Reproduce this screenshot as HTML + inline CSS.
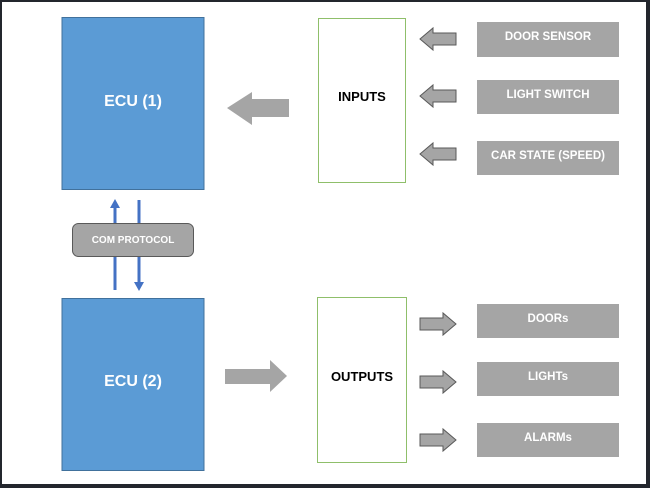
<!DOCTYPE html>
<html><head><meta charset="utf-8"><style>
html,body{margin:0;padding:0;background:#23262d;}
svg{display:block}
text{font-family:"Liberation Sans",sans-serif;font-weight:bold}
</style></head><body>
<svg width="650" height="488" viewBox="0 0 650 488">
<rect x="0" y="0" width="650" height="488" fill="#23262d"/>
<rect x="2" y="2" width="644" height="482" fill="#ffffff"/>
<!-- ECU boxes -->
<rect x="62" y="17.5" width="142" height="172" fill="#5b9bd5" stroke="#41719c" stroke-width="1"/>
<text x="133" y="106" fill="#fff" font-size="16" text-anchor="middle">ECU (1)</text>
<rect x="62" y="298.5" width="142" height="172" fill="#5b9bd5" stroke="#41719c" stroke-width="1"/>
<text x="133" y="386" fill="#fff" font-size="16" text-anchor="middle">ECU (2)</text>
<!-- blue arrows -->
<line x1="115" y1="290" x2="115" y2="207" stroke="#4472c4" stroke-width="3"/>
<polygon points="110,208 120,208 115,199" fill="#4472c4"/>
<line x1="139" y1="200" x2="139" y2="283" stroke="#4472c4" stroke-width="3"/>
<polygon points="134,282 144,282 139,291" fill="#4472c4"/>
<!-- com protocol -->
<rect x="72.5" y="223.5" width="121" height="33" rx="6" fill="#a5a5a5" stroke="#595959" stroke-width="1"/>
<text x="133" y="243" fill="#fff" font-size="10" text-anchor="middle">COM PROTOCOL</text>
<!-- big arrows -->
<polygon points="289,99 252,99 252,92 227,108 252,125 252,117 289,117" fill="#a5a5a5"/>
<polygon points="225,369 270,369 270,360 287,376 270,392 270,384 225,384" fill="#a5a5a5"/>
<!-- inputs/outputs -->
<rect x="318.5" y="18.5" width="87" height="164" fill="#fff" stroke="#8fbf6a" stroke-width="1"/>
<text x="362" y="101" fill="#000" font-size="13" text-anchor="middle">INPUTS</text>
<rect x="317.5" y="297.5" width="89" height="165" fill="#fff" stroke="#8fbf6a" stroke-width="1"/>
<text x="362" y="381" fill="#000" font-size="13" text-anchor="middle">OUTPUTS</text>
<!-- right boxes -->
<g fill="#a5a5a5">
<rect x="477" y="22" width="142" height="35"/>
<rect x="477" y="80" width="142" height="34"/>
<rect x="477" y="141" width="142" height="34"/>
<rect x="477" y="304" width="142" height="34"/>
<rect x="477" y="362" width="142" height="34"/>
<rect x="477" y="423" width="142" height="34"/>
</g>
<g fill="#fff" font-size="11.5" text-anchor="middle">
<text x="548" y="40">DOOR SENSOR</text>
<text x="548" y="98">LIGHT SWITCH</text>
<text x="548" y="159">CAR STATE (SPEED)</text>
<text x="548" y="322">DOORs</text>
<text x="548" y="380">LIGHTs</text>
<text x="548" y="441">ALARMs</text>
</g>
<!-- small arrows -->
<g fill="#a5a5a5" stroke="#595959" stroke-width="1">
<polygon points="456,33 433,33 433,28 420,39 433,50 433,45 456,45"/>
<polygon points="456,90 433,90 433,85 420,96 433,107 433,102 456,102"/>
<polygon points="456,148 433,148 433,143 420,154 433,165 433,160 456,160"/>
<polygon points="420,318 443,318 443,313 456,324 443,335 443,330 420,330"/>
<polygon points="420,376 443,376 443,371 456,382 443,393 443,388 420,388"/>
<polygon points="420,434 443,434 443,429 456,440 443,451 443,446 420,446"/>
</g>
</svg>
</body></html>
